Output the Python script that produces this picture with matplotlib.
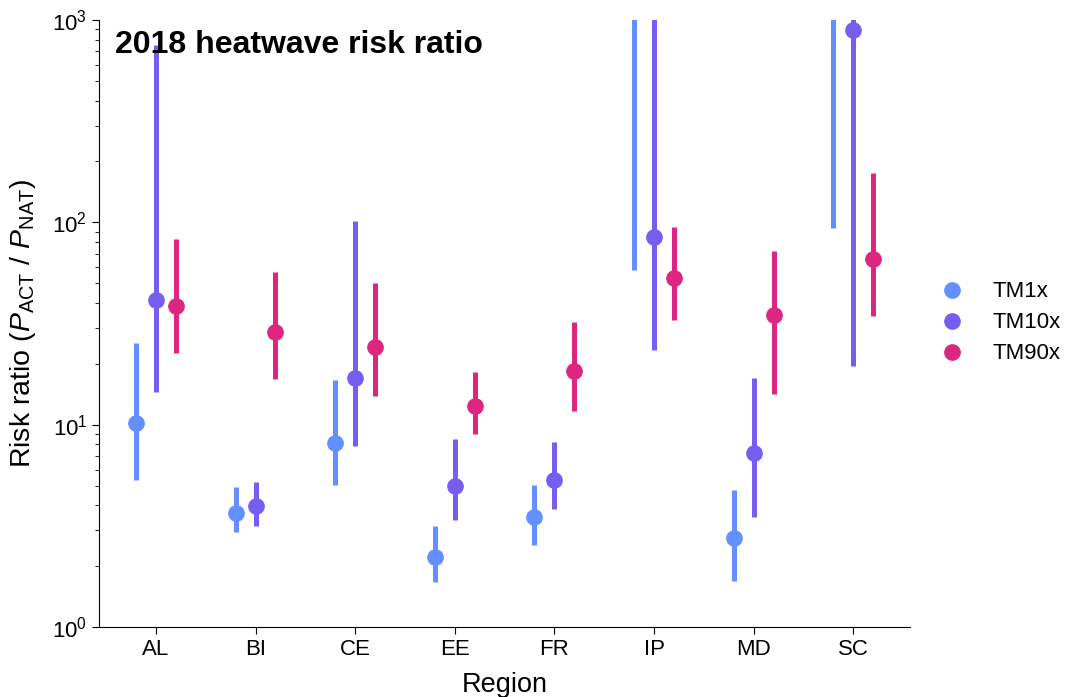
import matplotlib
matplotlib.use("Agg")
import matplotlib.pyplot as plt
import numpy as np

plt.rcParams['font.family'] = ['Liberation Sans', 'DejaVu Sans']
plt.rcParams['mathtext.fontset'] = 'custom'
plt.rcParams['mathtext.rm'] = 'Liberation Sans'
plt.rcParams['mathtext.it'] = 'Liberation Sans:italic'
plt.rcParams['mathtext.bf'] = 'Liberation Sans:bold'

regions = ["AL", "BI", "CE", "EE", "FR", "IP", "MD", "SC"]
series = ["TM1x", "TM10x", "TM90x"]
colors = ["#648FFF", "#785EF0", "#DC267F"]

# best estimate, lower and upper bound of the risk ratio, per region
tm1x_val = [10.2, 3.67, 8.15, 2.23, 3.49, 2000, 2.74, 3000]
tm1x_lo = [5.33, 2.95, 5.03, 1.67, 2.54, 58.2, 1.69, 93.5]
tm1x_hi = [25.4, 4.91, 16.6, 3.17, 5.02, 1e5, 4.74, 1e5]

tm10x_val = [41.3, 3.98, 17.1, 4.98, 5.31, 84.4, 7.22, 894]
tm10x_lo = [14.5, 3.16, 7.85, 3.38, 3.83, 23.5, 3.51, 19.5]
tm10x_hi = [753, 5.19, 101, 8.53, 8.21, 5e4, 17.0, 1e5]

tm90x_val = [38.6, 28.8, 24.3, 12.3, 18.4, 53.1, 34.7, 65.7]
tm90x_lo = [22.5, 16.8, 13.9, 8.97, 11.7, 33.0, 14.2, 34.6]
tm90x_hi = [82.8, 56.6, 50.0, 18.2, 32.3, 95.2, 72.4, 175]

data = [(tm1x_val, tm1x_lo, tm1x_hi),
        (tm10x_val, tm10x_lo, tm10x_hi),
        (tm90x_val, tm90x_lo, tm90x_hi)]

fig = plt.figure(figsize=(10.66, 6.97), dpi=100)
ax = fig.add_axes([0.093, 0.1004, 0.7607, 0.8709])

x = np.arange(len(regions))
offsets = [-0.2, 0.0, 0.2]
for (val, lo, hi), off, c, name in zip(data, offsets, colors, series):
    xs = x + off
    ax.vlines(xs, lo, hi, color=c, lw=3.6, zorder=2)
    ax.plot(xs, val, "o", color=c, ms=11, ls="none", label=name, zorder=3)

ax.set_yscale("log")
ax.set_ylim(1, 1000)
ax.set_xlim(-0.57, 7.57)
ax.set_xticks(x)
ax.set_xticklabels(regions)
ax.tick_params(labelsize=16)
ax.tick_params(which="major", length=5)
ax.tick_params(which="minor", length=3)
ax.spines["top"].set_visible(False)
ax.spines["right"].set_visible(False)
ax.set_xlabel("Region", fontsize=19.5, labelpad=9)
ax.set_ylabel(r"Risk ratio ($P_{\mathrm{ACT}}$ / $P_{\mathrm{NAT}}$)", fontsize=20.5, labelpad=10)
ax.text(0.0197, 0.959, "2018 heatwave risk ratio", transform=ax.transAxes,
        fontsize=23, fontweight="bold", va="center", ha="left")

fig.legend(loc="center left", bbox_to_anchor=(0.8535, 0.5366), frameon=False,
           fontsize=16, handletextpad=0.8, labelspacing=0.45)

fig.savefig("out.png", dpi=100)
